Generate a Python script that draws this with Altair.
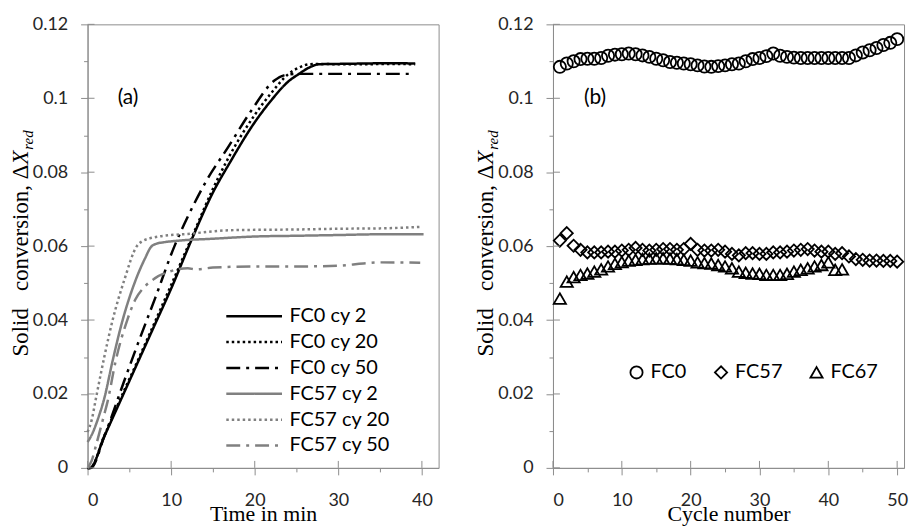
import altair as alt
import pandas as pd

# ---------------- Panel (a): conversion vs time ----------------
series_names = ["FC0 cy 2", "FC0 cy 20", "FC0 cy 50", "FC57 cy 2", "FC57 cy 20", "FC57 cy 50"]

t_fc0_2 = [0, 0.3, 2, 4, 6, 8, 10, 12.5, 15, 17, 20, 22, 24, 25.3, 26.5, 27.7, 30, 33, 36, 39.2]
y_fc0_2 = [0, 0, 0.0085, 0.0185, 0.0285, 0.0385, 0.0485, 0.062, 0.0745, 0.0825, 0.0935, 0.0995,
           0.1045, 0.1066, 0.1083, 0.1092, 0.1093, 0.1094, 0.1095, 0.1094]

t_fc0_20 = [0, 0.3, 2, 4, 6, 8, 10, 12.5, 15, 17, 20, 22, 24, 25.5, 26.5, 28, 30, 33, 36, 39.2]
y_fc0_20 = [0, 0, 0.0087, 0.019, 0.029, 0.0392, 0.0495, 0.0625, 0.0755, 0.0845, 0.0955, 0.1015,
            0.1065, 0.1085, 0.1092, 0.1093, 0.1092, 0.1092, 0.1093, 0.1092]

t_fc0_50 = [0, 0.4, 2, 4.35, 6, 8.1, 10.4, 12, 14.3, 16.8, 19.6, 22.35, 23.5, 25, 28, 32, 36, 39]
y_fc0_50 = [0, 0, 0.0085, 0.0233, 0.0335, 0.046, 0.06, 0.068, 0.078, 0.0867, 0.0967, 0.1048,
            0.1062, 0.1066, 0.1066, 0.1066, 0.1066, 0.1066]

t_fc57_2 = [0, 0.4, 1.4, 2, 3, 4.15, 5.7, 6.9, 7.6, 8.3, 9, 11, 15, 20, 25, 30, 35, 40.2]
y_fc57_2 = [0.007, 0.0085, 0.0143, 0.0188, 0.029, 0.0396, 0.0505, 0.0568, 0.0598, 0.0607, 0.061,
            0.0615, 0.062, 0.0626, 0.0628, 0.063, 0.0632, 0.0632]

t_fc57_20 = [0, 0.5, 1, 2, 3, 4.35, 5.9, 6.6, 7.3, 8.5, 10, 12, 15, 17, 20, 25, 30, 35, 39.8]
y_fc57_20 = [0.0097, 0.013, 0.0188, 0.03, 0.04, 0.0505, 0.06, 0.0614, 0.062, 0.0626, 0.063, 0.0633,
             0.064, 0.0643, 0.0644, 0.0645, 0.0647, 0.0648, 0.0652]

t_fc57_50 = [0, 0.5, 1, 2, 2.4, 3.35, 4.75, 5.7, 6.7, 8, 9.9, 12, 13, 15, 20, 25, 30, 33, 35, 39.8]
y_fc57_50 = [0, 0.002, 0.006, 0.0145, 0.018, 0.0288, 0.04, 0.0455, 0.0487, 0.0512, 0.0532, 0.054,
             0.0537, 0.0542, 0.0545, 0.0545, 0.0547, 0.0553, 0.0556, 0.0555]

# ---------------- Panel (b): conversion vs cycle ----------------
fc0_cyc = [0.1085, 0.1094, 0.1100, 0.1106, 0.1107, 0.1107, 0.1109, 0.1115, 0.1118, 0.1119,
           0.1121, 0.1119, 0.1116, 0.1112, 0.1107, 0.1103, 0.1098, 0.1096, 0.1094, 0.1092,
           0.1089, 0.1086, 0.1085, 0.1087, 0.1089, 0.1092, 0.1094, 0.1100, 0.1106, 0.1109,
           0.1114, 0.1121, 0.1115, 0.1112, 0.1110, 0.1109, 0.1109, 0.1109, 0.1109, 0.1109,
           0.1109, 0.1109, 0.1109, 0.1116, 0.1124, 0.1130, 0.1136, 0.1144, 0.1150, 0.1160]
fc57_cyc = [0.0615, 0.0635, 0.0601, 0.0590, 0.0583, 0.0583, 0.0583, 0.0585, 0.0585, 0.0588,
            0.0590, 0.0595, 0.0590, 0.0588, 0.0590, 0.0592, 0.0592, 0.0590, 0.0592, 0.0606,
            0.0590, 0.0588, 0.0588, 0.0590, 0.0585, 0.0579, 0.0575, 0.0581, 0.0581, 0.0579,
            0.0579, 0.0583, 0.0583, 0.0585, 0.0588, 0.0590, 0.0592, 0.0588, 0.0585, 0.0585,
            0.0579, 0.0581, 0.0572, 0.0565, 0.0563, 0.0561, 0.0561, 0.0560, 0.0560, 0.0558]
fc67_cyc = [0.0458, 0.0504, 0.0516, 0.0522, 0.0526, 0.0531, 0.0537, 0.0545, 0.0552, 0.0557,
            0.0561, 0.0563, 0.0565, 0.0566, 0.0567, 0.0567, 0.0566, 0.0565, 0.0563, 0.0561,
            0.0556, 0.0554, 0.0553, 0.0549, 0.0545, 0.0540, 0.0531, 0.0528, 0.0526, 0.0525,
            0.0522, 0.0522, 0.0522, 0.0525, 0.0531, 0.0536, 0.0540, 0.0545, 0.0549, 0.0556,
            0.0536, 0.0537]
marker_names = ["FC0", "FC57", "FC67"]

y_ticks = [round(i * 0.01, 2) for i in range(13)]
y_major = [round(i * 0.02, 2) for i in range(7)]
x_ticks_a = list(range(0, 41, 5))
x_major_a = list(range(0, 41, 10))
x_ticks_b = list(range(0, 51, 5))
x_major_b = list(range(0, 51, 10))

# ---------------- build tables ----------------
rows = []
for name, ts, ys in zip(series_names,
                        [t_fc0_2, t_fc0_20, t_fc0_50, t_fc57_2, t_fc57_20, t_fc57_50],
                        [y_fc0_2, y_fc0_20, y_fc0_50, y_fc57_2, y_fc57_20, y_fc57_50]):
    for t, y in zip(ts, ys):
        rows.append({"series": name, "t": t, "y": y})
df_a = pd.DataFrame(rows)

rows = []
for name, ys in zip(marker_names, [fc0_cyc, fc57_cyc, fc67_cyc]):
    for i, y in enumerate(ys):
        rows.append({"series": name, "cycle": i + 1, "y": y})
df_b = pd.DataFrame(rows)

SERIF = "Liberation Serif"
SANS = "Lato"
AX_GREY = "#8c8c8c"
W, H = 353, 446

minor_x = {"condition": {"test": "datum.value % 10 != 0", "value": 4}, "value": 7}
minor_y = {"condition": {"test": "round(datum.value * 100) % 2 != 0", "value": 4}, "value": 7}

y_scale = alt.Scale(domain=[0, 0.12], nice=False)
y_axis = alt.Axis(values=y_ticks, format="~g", title=None,
                  labelExpr="round(datum.value * 100) % 2 == 0 ? datum.label : ''",
                  tickSize=minor_y, labelPadding=13)


def x_axis(vals, title):
    return alt.Axis(values=vals, title=title,
                    labelExpr="datum.value % 10 == 0 ? datum.label : ''",
                    tickSize=minor_x, labelPadding=17, titlePadding=-6)


def ytitle_layers():
    main = alt.Chart(pd.DataFrame({"t": ["Solid\u00a0\u00a0 conversion, Δ"]})).mark_text(
        angle=270, align="right", baseline="alphabetic", font=SERIF, fontSize=23, color="black"
    ).encode(text="t:N", x=alt.value(-60), y=alt.value(141))
    xx = alt.Chart(pd.DataFrame({"t": ["X"]})).mark_text(
        angle=270, align="left", baseline="alphabetic", font=SERIF, fontSize=23,
        fontStyle="italic", color="black"
    ).encode(text="t:N", x=alt.value(-60), y=alt.value(141))
    sub = alt.Chart(pd.DataFrame({"t": ["red"]})).mark_text(
        angle=270, align="left", baseline="alphabetic", font=SERIF, fontSize=15,
        fontStyle="italic", color="black", dy=5
    ).encode(text="t:N", x=alt.value(-60), y=alt.value(126))
    return [main, xx, sub]


def inner_ticks(xmajor, xscale, xaxis):
    # inner half of the major (crossing) ticks
    ty = alt.Chart(pd.DataFrame({"v": y_major})).mark_rule(color=AX_GREY, strokeWidth=1).encode(
        y=alt.Y("v:Q", scale=y_scale, axis=y_axis), x=alt.value(0), x2=alt.value(7))
    tx = alt.Chart(pd.DataFrame({"v": xmajor})).mark_rule(color=AX_GREY, strokeWidth=1).encode(
        x=alt.X("v:Q", scale=xscale, axis=xaxis), y=alt.value(H), y2=alt.value(H - 7))
    return [ty, tx]


# ---------------- left panel ----------------
xs_a = alt.Scale(domain=[0, 42], nice=False)
xa_axis = x_axis(x_ticks_a, "Time in min")
lines = alt.Chart(df_a).mark_line(strokeWidth=2.5, interpolate="monotone").encode(
    x=alt.X("t:Q", scale=xs_a, axis=xa_axis),
    y=alt.Y("y:Q", scale=y_scale, axis=y_axis),
    color=alt.Color("series:N", sort=series_names,
                    scale=alt.Scale(domain=series_names,
                                    range=["black", "black", "black", "#808080", "#808080", "#808080"]),
                    legend=alt.Legend(title=None, orient="none", legendX=152, legendY=278,
                                      symbolType="M-2,0H2", symbolSize=784, symbolStrokeWidth=2.5,
                                      labelFont=SANS, labelFontSize=20, labelColor="black",
                                      labelOffset=20, rowPadding=-1, symbolLimit=10)),
    strokeDash=alt.StrokeDash("series:N", sort=series_names,
                              scale=alt.Scale(domain=series_names,
                                              range=[[1, 0], [2.5, 3], [14, 6, 3, 6],
                                                     [1, 0], [2.5, 3], [14, 6, 3, 6]]),
                              legend=None),
    order="t:Q",
)

label_a = alt.Chart(pd.DataFrame({"t": [3.6], "y": [0.1], "s": ["(a)"]})).mark_text(
    align="left", baseline="middle", font=SANS, fontSize=21, color="black"
).encode(x=alt.X("t:Q", scale=xs_a, axis=xa_axis), y=alt.Y("y:Q", scale=y_scale, axis=y_axis),
         text="s:N")

left = alt.layer(lines, label_a, *inner_ticks(x_major_a, xs_a, xa_axis), *ytitle_layers()).properties(
    width=W, height=H)

# ---------------- right panel ----------------
xs_b = alt.Scale(domain=[0, 51], nice=False)
xb_axis = x_axis(x_ticks_b, "Cycle number")
points = alt.Chart(df_b).mark_point(filled=False, color="black", strokeWidth=1.8, size=150,
                                    opacity=1).encode(
    x=alt.X("cycle:Q", scale=xs_b, axis=xb_axis),
    y=alt.Y("y:Q", scale=y_scale, axis=y_axis),
    shape=alt.Shape("series:N", sort=marker_names,
                    scale=alt.Scale(domain=marker_names, range=["circle", "diamond", "triangle-up"]),
                    legend=alt.Legend(title=None, orient="none", legendX=74, legendY=340,
                                      direction="horizontal", symbolSize=150,
                                      symbolStrokeWidth=1.8, symbolStrokeColor="black",
                                      labelFont=SANS, labelFontSize=20, labelColor="black",
                                      labelOffset=4, columnPadding=24)),
)

label_b = alt.Chart(pd.DataFrame({"t": [4.5], "y": [0.1], "s": ["(b)"]})).mark_text(
    align="left", baseline="middle", font=SANS, fontSize=21, color="black"
).encode(x=alt.X("t:Q", scale=xs_b, axis=xb_axis), y=alt.Y("y:Q", scale=y_scale, axis=y_axis),
         text="s:N")

right = alt.layer(points, label_b, *inner_ticks(x_major_b, xs_b, xb_axis), *ytitle_layers()).properties(
    width=W, height=H)

chart = alt.hconcat(left, right, spacing=35).properties(
    padding={"left": 1, "top": 5, "right": 0, "bottom": 0}, background="white"
).resolve_scale(color="independent", shape="independent", strokeDash="independent").configure_view(
    stroke=AX_GREY, strokeWidth=1
).configure_axis(
    grid=False, domainColor=AX_GREY, tickColor=AX_GREY, domainWidth=1, tickWidth=1,
    labelFont=SANS, labelFontSize=18, labelColor="#262626",
    titleFont=SERIF, titleFontSize=22, titleFontWeight="normal", titleColor="black"
)

chart.save("out.html", embed_options={"renderer": "svg", "actions": False})
